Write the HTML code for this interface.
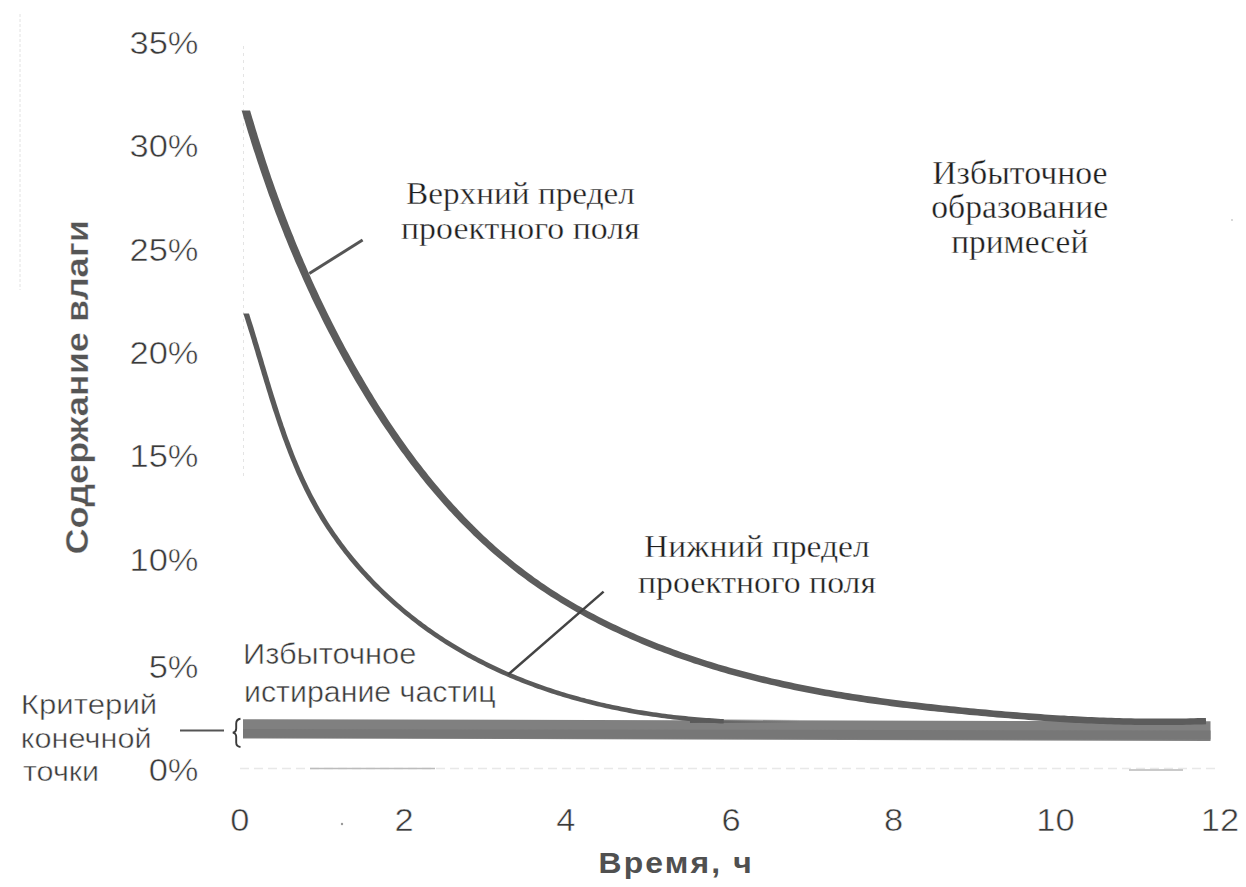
<!DOCTYPE html>
<html><head><meta charset="utf-8"><style>
html,body{margin:0;padding:0;background:#fff;width:1246px;height:887px;overflow:hidden}
svg{display:block}
</style></head><body>
<svg width="1246" height="887" viewBox="0 0 1246 887">
<rect width="1246" height="887" fill="#fff"/>
<line x1="20" y1="14" x2="20" y2="290" stroke="#e2e2e2" stroke-width="1" stroke-dasharray="3 2"/>
<line x1="243.5" y1="46" x2="243.5" y2="480" stroke="#e4e4e4" stroke-width="1" stroke-dasharray="3 4"/>
<line x1="240" y1="768.5" x2="1219" y2="768.5" stroke="#e8e8e8" stroke-width="1.5" stroke-dasharray="9 5"/>
<line x1="310" y1="768.5" x2="435" y2="768.5" stroke="#bcbcbc" stroke-width="1.5"/>
<line x1="1129" y1="770" x2="1183" y2="770" stroke="#b8b8b8" stroke-width="1.5"/>
<circle cx="342" cy="824" r="1.2" fill="#999"/>
<circle cx="1232" cy="220" r="1" fill="#ccc"/>
<path d="M243 719.3 L1210.5 721.3 L1210.5 741 L243 738.4 Z" fill="#808080"/>
<path d="M243 729 L1210.5 730.5 L1210.5 739.5 L243 737.8 Z" fill="#777"/>
<linearGradient id="lg" x1="690" y1="0" x2="800" y2="0" gradientUnits="userSpaceOnUse"><stop offset="0" stop-color="#5a5a5a" stop-opacity="1"/><stop offset="1" stop-color="#5a5a5a" stop-opacity="0"/></linearGradient>
<rect x="690" y="719.5" width="110" height="3.5" fill="url(#lg)"/>
<clipPath id="cu"><rect x="0" y="110.5" width="1246" height="800"/></clipPath>
<path d="M241.1 108.8 L242.3 112.7 L243.4 116.5 L244.5 120.3 L245.6 124.1 L246.8 127.9 L247.9 131.7 L249.1 135.4 L250.3 139.2 L251.4 143.0 L252.6 146.8 L253.8 150.5 L255.1 154.3 L256.3 158.0 L257.5 161.8 L258.8 165.5 L260.0 169.3 L261.3 173.0 L262.6 176.8 L263.9 180.5 L265.2 184.2 L266.5 188.0 L267.8 191.7 L269.1 195.4 L270.5 199.1 L271.9 202.8 L273.2 206.5 L274.6 210.2 L276.0 213.9 L277.4 217.6 L278.8 221.2 L280.3 224.9 L281.7 228.6 L283.2 232.3 L284.6 235.9 L286.1 239.6 L287.6 243.2 L289.1 246.9 L290.6 250.5 L292.1 254.1 L293.7 257.8 L295.2 261.4 L296.8 265.0 L298.4 268.6 L300.0 272.2 L301.6 275.8 L303.2 279.4 L304.8 283.0 L306.4 286.6 L308.1 290.2 L309.8 293.8 L311.4 297.4 L313.1 300.9 L314.8 304.5 L316.5 308.0 L318.3 311.6 L320.0 315.1 L321.8 318.7 L323.5 322.2 L325.3 325.7 L327.1 329.2 L328.9 332.8 L330.8 336.3 L332.6 339.8 L334.4 343.3 L336.3 346.8 L338.2 350.3 L340.1 353.7 L342.0 357.2 L343.9 360.7 L345.8 364.1 L347.8 367.6 L349.7 371.0 L351.7 374.5 L353.7 377.9 L355.7 381.4 L357.7 384.8 L359.8 388.2 L361.8 391.6 L363.9 395.0 L366.0 398.4 L368.0 401.8 L370.2 405.2 L372.3 408.5 L374.4 411.9 L376.6 415.3 L378.7 418.6 L380.9 421.9 L383.1 425.2 L385.3 428.6 L387.6 431.8 L389.8 435.1 L392.1 438.4 L394.4 441.7 L396.7 444.9 L399.0 448.2 L401.3 451.4 L403.7 454.6 L406.0 457.8 L408.4 461.0 L410.8 464.2 L413.2 467.3 L415.6 470.5 L418.1 473.6 L420.5 476.7 L423.0 479.8 L425.5 482.9 L428.0 486.0 L430.6 489.0 L433.1 492.0 L435.7 495.1 L438.3 498.1 L440.9 501.0 L443.5 504.0 L446.2 507.0 L448.8 509.9 L451.5 512.8 L454.2 515.7 L456.9 518.6 L459.6 521.4 L462.4 524.2 L465.2 527.1 L468.0 529.8 L470.8 532.6 L473.6 535.4 L476.4 538.1 L479.3 540.8 L482.2 543.5 L485.1 546.1 L488.0 548.8 L491.0 551.4 L493.9 554.0 L496.9 556.6 L499.9 559.1 L502.9 561.6 L506.0 564.1 L509.0 566.6 L512.1 569.1 L515.2 571.5 L518.3 573.9 L521.5 576.2 L524.7 578.6 L527.8 580.9 L531.0 583.2 L534.3 585.5 L537.5 587.7 L540.8 589.9 L544.0 592.1 L547.3 594.3 L550.6 596.4 L554.0 598.5 L557.3 600.6 L560.7 602.7 L564.1 604.7 L567.5 606.8 L570.9 608.8 L574.3 610.7 L577.7 612.7 L581.2 614.6 L584.6 616.5 L588.1 618.4 L591.6 620.3 L595.1 622.1 L598.7 623.9 L602.2 625.7 L605.7 627.5 L609.3 629.2 L612.9 630.9 L616.5 632.6 L620.1 634.3 L623.7 635.9 L627.3 637.6 L630.9 639.2 L634.6 640.8 L638.2 642.3 L641.9 643.9 L645.6 645.4 L649.3 646.9 L653.0 648.4 L656.7 649.9 L660.4 651.3 L664.1 652.7 L667.8 654.1 L671.6 655.5 L675.3 656.9 L679.1 658.2 L682.8 659.5 L686.6 660.8 L690.3 662.1 L694.1 663.4 L697.9 664.6 L701.7 665.8 L705.5 667.0 L709.3 668.2 L713.1 669.4 L716.9 670.5 L720.7 671.7 L724.5 672.8 L728.3 673.9 L732.2 674.9 L736.0 676.0 L739.8 677.0 L743.6 678.1 L747.5 679.1 L751.3 680.1 L755.2 681.0 L759.0 682.0 L762.8 682.9 L766.7 683.8 L770.5 684.8 L774.4 685.6 L778.3 686.5 L782.1 687.4 L786.0 688.2 L789.8 689.1 L793.7 689.9 L797.6 690.7 L801.5 691.5 L805.3 692.2 L809.2 693.0 L813.1 693.7 L817.0 694.5 L820.9 695.2 L824.7 695.9 L828.6 696.6 L832.5 697.3 L836.4 698.0 L840.3 698.6 L844.2 699.3 L848.1 699.9 L852.0 700.5 L855.9 701.1 L859.8 701.7 L863.7 702.3 L867.6 702.9 L871.5 703.5 L875.4 704.0 L879.3 704.6 L883.2 705.1 L887.1 705.6 L891.1 706.2 L895.0 706.7 L898.9 707.2 L902.8 707.7 L906.7 708.1 L910.6 708.6 L914.6 709.1 L918.5 709.5 L922.4 710.0 L926.3 710.4 L930.3 710.9 L934.2 711.3 L938.1 711.7 L942.0 712.1 L946.0 712.5 L949.9 712.9 L953.8 713.3 L957.7 713.7 L961.7 714.1 L965.6 714.5 L969.5 714.9 L973.4 715.2 L977.4 715.6 L981.3 716.0 L985.2 716.3 L989.2 716.7 L993.1 717.0 L997.0 717.4 L1001.0 717.7 L1004.9 718.0 L1008.8 718.3 L1012.7 718.7 L1016.7 719.0 L1020.6 719.3 L1024.5 719.6 L1028.5 719.9 L1032.4 720.2 L1036.4 720.4 L1040.3 720.7 L1044.2 721.0 L1048.2 721.2 L1052.1 721.5 L1056.0 721.7 L1060.0 722.0 L1063.9 722.2 L1067.9 722.4 L1071.8 722.7 L1075.7 722.9 L1079.7 723.1 L1083.6 723.3 L1087.6 723.4 L1091.5 723.6 L1095.4 723.8 L1099.4 723.9 L1103.3 724.1 L1107.3 724.2 L1111.2 724.3 L1115.2 724.5 L1119.1 724.6 L1123.1 724.7 L1127.0 724.8 L1131.0 724.8 L1134.9 724.9 L1138.9 725.0 L1142.8 725.0 L1146.8 725.1 L1150.7 725.1 L1154.7 725.1 L1158.6 725.1 L1162.6 725.1 L1166.5 725.1 L1170.5 725.1 L1174.4 725.0 L1178.4 725.0 L1182.3 724.9 L1186.3 724.8 L1190.2 724.7 L1194.2 724.6 L1198.2 724.5 L1202.1 724.4 L1206.1 724.3 L1205.9 717.9 L1201.9 718.0 L1198.0 718.1 L1194.0 718.2 L1190.1 718.3 L1186.2 718.4 L1182.2 718.5 L1178.3 718.5 L1174.4 718.6 L1170.4 718.6 L1166.5 718.6 L1162.5 718.6 L1158.6 718.6 L1154.7 718.6 L1150.7 718.6 L1146.8 718.6 L1142.9 718.5 L1138.9 718.5 L1135.0 718.4 L1131.1 718.3 L1127.1 718.3 L1123.2 718.2 L1119.3 718.1 L1115.4 717.9 L1111.4 717.8 L1107.5 717.7 L1103.6 717.5 L1099.6 717.4 L1095.7 717.2 L1091.8 717.1 L1087.9 716.9 L1083.9 716.7 L1080.0 716.5 L1076.1 716.3 L1072.1 716.1 L1068.2 715.9 L1064.3 715.6 L1060.4 715.4 L1056.4 715.2 L1052.5 714.9 L1048.6 714.7 L1044.7 714.4 L1040.7 714.1 L1036.8 713.8 L1032.9 713.6 L1029.0 713.3 L1025.1 713.0 L1021.1 712.7 L1017.2 712.3 L1013.3 712.0 L1009.4 711.7 L1005.4 711.4 L1001.5 711.0 L997.6 710.7 L993.7 710.4 L989.8 710.0 L985.8 709.6 L981.9 709.3 L978.0 708.9 L974.1 708.6 L970.2 708.2 L966.2 707.8 L962.3 707.4 L958.4 707.0 L954.5 706.6 L950.6 706.2 L946.7 705.8 L942.7 705.4 L938.8 705.0 L934.9 704.6 L931.0 704.1 L927.1 703.7 L923.2 703.3 L919.3 702.8 L915.4 702.3 L911.5 701.9 L907.5 701.4 L903.6 700.9 L899.7 700.4 L895.8 699.9 L891.9 699.4 L888.0 698.9 L884.1 698.4 L880.3 697.9 L876.4 697.3 L872.5 696.8 L868.6 696.2 L864.7 695.7 L860.8 695.1 L856.9 694.5 L853.0 693.9 L849.2 693.3 L845.3 692.7 L841.4 692.0 L837.5 691.4 L833.6 690.7 L829.8 690.0 L825.9 689.4 L822.0 688.7 L818.2 688.0 L814.3 687.2 L810.5 686.5 L806.6 685.8 L802.8 685.0 L798.9 684.2 L795.1 683.4 L791.2 682.6 L787.4 681.8 L783.5 681.0 L779.7 680.1 L775.9 679.3 L772.0 678.4 L768.2 677.5 L764.4 676.6 L760.6 675.7 L756.7 674.7 L752.9 673.8 L749.1 672.8 L745.3 671.8 L741.5 670.8 L737.7 669.8 L733.9 668.7 L730.1 667.7 L726.3 666.6 L722.5 665.5 L718.7 664.4 L715.0 663.2 L711.2 662.1 L707.4 660.9 L703.6 659.7 L699.9 658.5 L696.1 657.3 L692.4 656.0 L688.7 654.8 L684.9 653.5 L681.2 652.2 L677.5 650.8 L673.8 649.5 L670.1 648.1 L666.4 646.7 L662.7 645.3 L659.0 643.9 L655.3 642.4 L651.7 641.0 L648.0 639.5 L644.4 638.0 L640.7 636.5 L637.1 634.9 L633.5 633.3 L629.9 631.7 L626.3 630.1 L622.8 628.5 L619.2 626.8 L615.6 625.1 L612.1 623.4 L608.6 621.7 L605.1 620.0 L601.6 618.2 L598.1 616.4 L594.6 614.6 L591.1 612.8 L587.7 610.9 L584.3 609.0 L580.9 607.1 L577.5 605.2 L574.1 603.2 L570.7 601.3 L567.4 599.3 L564.0 597.2 L560.7 595.2 L557.4 593.1 L554.1 591.0 L550.9 588.9 L547.6 586.7 L544.4 584.6 L541.2 582.4 L538.0 580.1 L534.8 577.9 L531.7 575.6 L528.5 573.3 L525.4 571.0 L522.3 568.6 L519.3 566.3 L516.2 563.9 L513.2 561.4 L510.2 559.0 L507.2 556.5 L504.2 554.0 L501.2 551.5 L498.3 549.0 L495.4 546.4 L492.5 543.8 L489.6 541.2 L486.8 538.5 L483.9 535.9 L481.1 533.2 L478.3 530.5 L475.5 527.8 L472.8 525.0 L470.0 522.3 L467.3 519.5 L464.6 516.7 L461.9 513.8 L459.2 511.0 L456.6 508.1 L453.9 505.2 L451.3 502.3 L448.7 499.4 L446.1 496.5 L443.5 493.5 L441.0 490.5 L438.5 487.6 L435.9 484.5 L433.4 481.5 L431.0 478.5 L428.5 475.4 L426.1 472.3 L423.6 469.3 L421.2 466.1 L418.8 463.0 L416.4 459.9 L414.1 456.7 L411.7 453.6 L409.4 450.4 L407.1 447.2 L404.8 444.0 L402.5 440.8 L400.2 437.6 L398.0 434.3 L395.7 431.1 L393.5 427.8 L391.3 424.5 L389.1 421.2 L387.0 417.9 L384.8 414.6 L382.7 411.3 L380.5 408.0 L378.4 404.7 L376.3 401.3 L374.2 398.0 L372.2 394.6 L370.1 391.2 L368.1 387.8 L366.1 384.4 L364.1 381.0 L362.1 377.6 L360.1 374.2 L358.1 370.8 L356.2 367.4 L354.2 364.0 L352.3 360.5 L350.4 357.1 L348.5 353.6 L346.6 350.2 L344.7 346.7 L342.9 343.3 L341.0 339.8 L339.2 336.3 L337.4 332.8 L335.6 329.3 L333.8 325.8 L332.0 322.3 L330.3 318.8 L328.5 315.3 L326.8 311.8 L325.1 308.3 L323.4 304.7 L321.7 301.2 L320.0 297.7 L318.3 294.1 L316.7 290.6 L315.0 287.0 L313.4 283.4 L311.8 279.9 L310.2 276.3 L308.6 272.7 L307.0 269.1 L305.5 265.5 L303.9 261.9 L302.4 258.3 L300.8 254.7 L299.3 251.1 L297.8 247.5 L296.3 243.9 L294.8 240.3 L293.4 236.6 L291.9 233.0 L290.5 229.4 L289.0 225.7 L287.6 222.1 L286.2 218.4 L284.8 214.7 L283.4 211.1 L282.0 207.4 L280.7 203.7 L279.3 200.1 L278.0 196.4 L276.7 192.7 L275.3 189.0 L274.0 185.3 L272.7 181.6 L271.4 177.9 L270.2 174.2 L268.9 170.4 L267.7 166.7 L266.4 163.0 L265.2 159.3 L264.0 155.5 L262.8 151.8 L261.6 148.1 L260.4 144.3 L259.2 140.6 L258.0 136.8 L256.9 133.0 L255.7 129.3 L254.6 125.5 L253.5 121.7 L252.3 118.0 L251.2 114.2 L250.1 110.4 L249.0 106.6 Z" fill="#5c5c5c" clip-path="url(#cu)"/>
<clipPath id="cl"><rect x="0" y="313.5" width="1246" height="800"/></clipPath>
<path d="M242.9 312.2 L243.8 315.1 L244.7 317.8 L245.6 320.6 L246.5 323.4 L247.4 326.2 L248.2 328.9 L249.1 331.7 L250.0 334.5 L250.8 337.3 L251.7 340.1 L252.5 342.9 L253.4 345.7 L254.2 348.5 L255.1 351.3 L255.9 354.2 L256.7 357.0 L257.6 359.8 L258.4 362.6 L259.3 365.4 L260.1 368.3 L261.0 371.1 L261.8 373.9 L262.7 376.7 L263.5 379.6 L264.4 382.4 L265.3 385.2 L266.1 388.1 L267.0 390.9 L267.9 393.7 L268.7 396.6 L269.6 399.4 L270.5 402.2 L271.4 405.0 L272.3 407.9 L273.2 410.7 L274.2 413.5 L275.1 416.3 L276.0 419.1 L277.0 421.9 L277.9 424.7 L278.9 427.5 L279.8 430.3 L280.8 433.1 L281.8 435.9 L282.8 438.7 L283.9 441.5 L284.9 444.3 L285.9 447.0 L287.0 449.8 L288.0 452.5 L289.1 455.3 L290.2 458.0 L291.3 460.8 L292.5 463.5 L293.6 466.2 L294.8 469.0 L295.9 471.7 L297.1 474.4 L298.3 477.1 L299.5 479.7 L300.8 482.4 L302.0 485.1 L303.3 487.7 L304.6 490.4 L305.9 493.0 L307.3 495.7 L308.6 498.3 L310.0 500.9 L311.4 503.5 L312.8 506.1 L314.3 508.7 L315.7 511.2 L317.2 513.8 L318.7 516.3 L320.2 518.9 L321.8 521.4 L323.4 523.9 L325.0 526.4 L326.6 528.9 L328.2 531.3 L329.9 533.8 L331.6 536.2 L333.3 538.6 L335.0 541.1 L336.7 543.5 L338.5 545.8 L340.3 548.2 L342.1 550.6 L343.9 552.9 L345.8 555.3 L347.6 557.6 L349.5 559.9 L351.4 562.2 L353.3 564.4 L355.2 566.7 L357.2 568.9 L359.2 571.2 L361.2 573.4 L363.2 575.6 L365.2 577.8 L367.2 579.9 L369.3 582.1 L371.3 584.2 L373.4 586.4 L375.5 588.5 L377.7 590.6 L379.8 592.6 L382.0 594.7 L384.1 596.7 L386.3 598.8 L388.5 600.8 L390.7 602.8 L392.9 604.7 L395.2 606.7 L397.4 608.6 L399.7 610.6 L402.0 612.5 L404.3 614.4 L406.6 616.3 L408.9 618.1 L411.2 620.0 L413.6 621.8 L415.9 623.6 L418.3 625.4 L420.7 627.2 L423.1 628.9 L425.5 630.7 L427.9 632.4 L430.3 634.1 L432.7 635.8 L435.2 637.4 L437.7 639.1 L440.1 640.7 L442.6 642.3 L445.1 643.9 L447.6 645.5 L450.1 647.0 L452.6 648.6 L455.1 650.1 L457.7 651.6 L460.2 653.1 L462.8 654.5 L465.4 656.0 L467.9 657.4 L470.5 658.8 L473.1 660.2 L475.7 661.6 L478.3 662.9 L480.9 664.3 L483.6 665.6 L486.2 666.9 L488.8 668.2 L491.5 669.5 L494.2 670.7 L496.8 672.0 L499.5 673.2 L502.2 674.4 L504.9 675.6 L507.6 676.8 L510.3 677.9 L513.0 679.1 L515.7 680.2 L518.5 681.3 L521.2 682.4 L523.9 683.5 L526.7 684.6 L529.4 685.6 L532.2 686.6 L535.0 687.7 L537.7 688.7 L540.5 689.6 L543.3 690.6 L546.1 691.6 L548.9 692.5 L551.7 693.4 L554.5 694.3 L557.3 695.2 L560.2 696.1 L563.0 697.0 L565.8 697.8 L568.6 698.6 L571.5 699.5 L574.3 700.3 L577.2 701.0 L580.0 701.8 L582.9 702.6 L585.8 703.3 L588.6 704.1 L591.5 704.8 L594.4 705.5 L597.3 706.2 L600.2 706.8 L603.1 707.5 L606.0 708.2 L608.9 708.8 L611.8 709.4 L614.7 710.0 L617.6 710.6 L620.5 711.2 L623.4 711.8 L626.3 712.3 L629.2 712.9 L632.2 713.4 L635.1 713.9 L638.0 714.4 L640.9 714.9 L643.9 715.4 L646.8 715.8 L649.7 716.3 L652.7 716.7 L655.6 717.1 L658.6 717.6 L661.5 718.0 L664.5 718.3 L667.4 718.7 L670.4 719.1 L673.3 719.4 L676.3 719.8 L679.2 720.1 L682.2 720.4 L685.1 720.7 L688.1 721.0 L691.0 721.3 L694.0 721.6 L696.9 721.8 L699.9 722.1 L702.9 722.3 L705.8 722.5 L708.8 722.7 L711.7 722.9 L714.7 723.1 L717.6 723.3 L720.6 723.5 L723.6 723.6 L723.8 719.0 L720.9 718.9 L717.9 718.7 L715.0 718.5 L712.0 718.3 L709.1 718.1 L706.2 717.9 L703.2 717.7 L700.3 717.5 L697.3 717.2 L694.4 717.0 L691.5 716.7 L688.5 716.4 L685.6 716.1 L682.6 715.8 L679.7 715.5 L676.8 715.2 L673.8 714.9 L670.9 714.5 L668.0 714.2 L665.0 713.8 L662.1 713.4 L659.2 713.0 L656.3 712.6 L653.3 712.2 L650.4 711.7 L647.5 711.3 L644.6 710.8 L641.7 710.3 L638.8 709.9 L635.9 709.4 L633.0 708.9 L630.1 708.3 L627.2 707.8 L624.3 707.2 L621.4 706.7 L618.5 706.1 L615.6 705.5 L612.7 704.9 L609.8 704.3 L606.9 703.7 L604.1 703.0 L601.2 702.4 L598.3 701.7 L595.5 701.0 L592.6 700.3 L589.8 699.6 L586.9 698.9 L584.1 698.1 L581.2 697.4 L578.4 696.6 L575.6 695.8 L572.8 695.0 L569.9 694.2 L567.1 693.4 L564.3 692.5 L561.5 691.7 L558.7 690.8 L555.9 689.9 L553.1 689.0 L550.4 688.1 L547.6 687.2 L544.8 686.2 L542.1 685.3 L539.3 684.3 L536.5 683.3 L533.8 682.3 L531.1 681.3 L528.3 680.2 L525.6 679.2 L522.9 678.1 L520.2 677.0 L517.5 675.9 L514.8 674.8 L512.1 673.7 L509.4 672.5 L506.7 671.4 L504.1 670.2 L501.4 669.0 L498.8 667.8 L496.1 666.5 L493.5 665.3 L490.9 664.0 L488.3 662.7 L485.7 661.4 L483.1 660.1 L480.5 658.8 L477.9 657.5 L475.3 656.1 L472.7 654.7 L470.2 653.3 L467.6 651.9 L465.1 650.5 L462.6 649.0 L460.0 647.5 L457.5 646.1 L455.0 644.6 L452.5 643.0 L450.1 641.5 L447.6 639.9 L445.1 638.4 L442.7 636.8 L440.2 635.2 L437.8 633.5 L435.4 631.9 L433.0 630.2 L430.6 628.6 L428.2 626.9 L425.8 625.1 L423.5 623.4 L421.1 621.6 L418.8 619.9 L416.4 618.1 L414.1 616.3 L411.8 614.5 L409.5 612.6 L407.2 610.8 L405.0 608.9 L402.7 607.0 L400.5 605.1 L398.3 603.2 L396.1 601.2 L393.9 599.2 L391.7 597.3 L389.5 595.3 L387.4 593.3 L385.2 591.2 L383.1 589.2 L381.0 587.2 L378.9 585.1 L376.8 583.0 L374.8 580.9 L372.7 578.8 L370.7 576.6 L368.7 574.5 L366.7 572.3 L364.7 570.2 L362.8 568.0 L360.8 565.8 L358.9 563.5 L357.0 561.3 L355.1 559.1 L353.2 556.8 L351.4 554.5 L349.6 552.2 L347.7 549.9 L345.9 547.6 L344.2 545.3 L342.4 542.9 L340.7 540.6 L339.0 538.2 L337.3 535.8 L335.6 533.4 L333.9 531.0 L332.3 528.6 L330.7 526.2 L329.1 523.7 L327.5 521.2 L326.0 518.8 L324.5 516.3 L323.0 513.8 L321.5 511.3 L320.0 508.8 L318.6 506.2 L317.2 503.7 L315.8 501.1 L314.4 498.6 L313.0 496.0 L311.7 493.4 L310.4 490.8 L309.1 488.2 L307.8 485.6 L306.6 483.0 L305.3 480.3 L304.1 477.7 L302.9 475.0 L301.7 472.3 L300.5 469.7 L299.4 467.0 L298.2 464.3 L297.1 461.6 L296.0 458.9 L294.9 456.2 L293.8 453.4 L292.8 450.7 L291.7 448.0 L290.7 445.2 L289.7 442.5 L288.6 439.7 L287.6 437.0 L286.6 434.2 L285.7 431.4 L284.7 428.6 L283.7 425.9 L282.8 423.1 L281.8 420.3 L280.9 417.5 L280.0 414.7 L279.1 411.9 L278.2 409.1 L277.3 406.3 L276.4 403.5 L275.5 400.6 L274.6 397.8 L273.7 395.0 L272.9 392.2 L272.0 389.4 L271.1 386.5 L270.3 383.7 L269.4 380.9 L268.6 378.1 L267.7 375.2 L266.9 372.4 L266.0 369.6 L265.2 366.8 L264.3 363.9 L263.5 361.1 L262.7 358.3 L261.8 355.5 L261.0 352.6 L260.1 349.8 L259.3 347.0 L258.5 344.2 L257.6 341.4 L256.8 338.6 L255.9 335.7 L255.1 332.9 L254.2 330.1 L253.4 327.3 L252.5 324.6 L251.6 321.8 L250.7 319.0 L249.9 316.2 L249.0 313.4 L248.1 310.6 Z" fill="#5a5a5a" clip-path="url(#cl)"/>
<line x1="309.3" y1="273.5" x2="362.6" y2="240" stroke="#555" stroke-width="3"/>
<line x1="508.2" y1="674.6" x2="603.6" y2="591.6" stroke="#444" stroke-width="2.5"/>
<line x1="180" y1="730.5" x2="224" y2="730.5" stroke="#555" stroke-width="2"/>
<path d="M240.5 718.8 C237.5 719.2 236.2 720.8 236.2 723.5 L236.2 728.5 C236.2 731 235 732.2 232.8 732.6 C235 733 236.2 734.3 236.2 736.8 L236.2 742.5 C236.2 745.2 237.5 746.6 240.5 747" fill="none" stroke="#3a3a3a" stroke-width="1.9"/>
<text transform="translate(198.5 54.0) scale(1.130 1)" text-anchor="end" font-family="'Liberation Sans', sans-serif" font-weight="normal" font-size="30.5" fill="#3a3a3a" stroke="#fff" stroke-width="0.50">35%</text>
<text transform="translate(198.5 157.0) scale(1.130 1)" text-anchor="end" font-family="'Liberation Sans', sans-serif" font-weight="normal" font-size="30.5" fill="#3a3a3a" stroke="#fff" stroke-width="0.50">30%</text>
<text transform="translate(198.5 261.0) scale(1.130 1)" text-anchor="end" font-family="'Liberation Sans', sans-serif" font-weight="normal" font-size="30.5" fill="#3a3a3a" stroke="#fff" stroke-width="0.50">25%</text>
<text transform="translate(198.5 364.0) scale(1.130 1)" text-anchor="end" font-family="'Liberation Sans', sans-serif" font-weight="normal" font-size="30.5" fill="#3a3a3a" stroke="#fff" stroke-width="0.50">20%</text>
<text transform="translate(198.5 467.0) scale(1.130 1)" text-anchor="end" font-family="'Liberation Sans', sans-serif" font-weight="normal" font-size="30.5" fill="#3a3a3a" stroke="#fff" stroke-width="0.50">15%</text>
<text transform="translate(198.5 571.0) scale(1.130 1)" text-anchor="end" font-family="'Liberation Sans', sans-serif" font-weight="normal" font-size="30.5" fill="#3a3a3a" stroke="#fff" stroke-width="0.50">10%</text>
<text transform="translate(198.5 677.5) scale(1.130 1)" text-anchor="end" font-family="'Liberation Sans', sans-serif" font-weight="normal" font-size="30.5" fill="#3a3a3a" stroke="#fff" stroke-width="0.50">5%</text>
<text transform="translate(198.5 781.0) scale(1.130 1)" text-anchor="end" font-family="'Liberation Sans', sans-serif" font-weight="normal" font-size="30.5" fill="#3a3a3a" stroke="#fff" stroke-width="0.50">0%</text>
<text transform="translate(239.8 830.5) scale(1.130 1)" text-anchor="middle" font-family="'Liberation Sans', sans-serif" font-weight="normal" font-size="30.5" fill="#3a3a3a" stroke="#fff" stroke-width="0.50">0</text>
<text transform="translate(404.0 830.5) scale(1.130 1)" text-anchor="middle" font-family="'Liberation Sans', sans-serif" font-weight="normal" font-size="30.5" fill="#3a3a3a" stroke="#fff" stroke-width="0.50">2</text>
<text transform="translate(565.8 830.5) scale(1.130 1)" text-anchor="middle" font-family="'Liberation Sans', sans-serif" font-weight="normal" font-size="30.5" fill="#3a3a3a" stroke="#fff" stroke-width="0.50">4</text>
<text transform="translate(731.0 830.5) scale(1.130 1)" text-anchor="middle" font-family="'Liberation Sans', sans-serif" font-weight="normal" font-size="30.5" fill="#3a3a3a" stroke="#fff" stroke-width="0.50">6</text>
<text transform="translate(893.7 830.5) scale(1.130 1)" text-anchor="middle" font-family="'Liberation Sans', sans-serif" font-weight="normal" font-size="30.5" fill="#3a3a3a" stroke="#fff" stroke-width="0.50">8</text>
<text transform="translate(1055.4 830.5) scale(1.130 1)" text-anchor="middle" font-family="'Liberation Sans', sans-serif" font-weight="normal" font-size="30.5" fill="#3a3a3a" stroke="#fff" stroke-width="0.50">10</text>
<text transform="translate(1220.0 830.5) scale(1.130 1)" text-anchor="middle" font-family="'Liberation Sans', sans-serif" font-weight="normal" font-size="30.5" fill="#3a3a3a" stroke="#fff" stroke-width="0.50">12</text>
<text transform="translate(87.5 554.5) rotate(-90) scale(1.165 1)" text-anchor="start" font-family="'Liberation Sans', sans-serif" font-weight="bold" font-size="31.0" fill="#555" stroke="#fff" stroke-width="0.30">Содержание влаги</text>
<text transform="translate(598.5 872.9) scale(1.080 1)" text-anchor="start" font-family="'Liberation Sans', sans-serif" font-weight="bold" font-size="29.5" fill="#505050" letter-spacing="2.00">Время, ч</text>
<text transform="translate(243.0 664.0) scale(1.035 1)" text-anchor="start" font-family="'Liberation Sans', sans-serif" font-weight="normal" font-size="29.8" fill="#3a3a3a" stroke="#fff" stroke-width="0.50">Избыточное</text>
<text transform="translate(244.0 701.8) scale(1.028 1)" text-anchor="start" font-family="'Liberation Sans', sans-serif" font-weight="normal" font-size="29.5" fill="#3a3a3a" stroke="#fff" stroke-width="0.50">истирание частиц</text>
<text transform="translate(20.8 713.5) scale(1.095 1)" text-anchor="start" font-family="'Liberation Sans', sans-serif" font-weight="normal" font-size="28.5" fill="#3a3a3a" stroke="#fff" stroke-width="0.50">Критерий</text>
<text transform="translate(20.8 747.6) scale(1.075 1)" text-anchor="start" font-family="'Liberation Sans', sans-serif" font-weight="normal" font-size="28.5" fill="#3a3a3a" stroke="#fff" stroke-width="0.50">конечной</text>
<text transform="translate(23.0 781.4) scale(1.070 1)" text-anchor="start" font-family="'Liberation Sans', sans-serif" font-weight="normal" font-size="28.5" fill="#3a3a3a" stroke="#fff" stroke-width="0.50">точки</text>
<text transform="translate(406.0 204.4) scale(1.040 1)" text-anchor="start" font-family="'Liberation Serif', serif" font-weight="normal" font-size="32.0" fill="#1e1e1e" stroke="#fff" stroke-width="0.35">Верхний предел</text>
<text transform="translate(401.0 239.3) scale(1.058 1)" text-anchor="start" font-family="'Liberation Serif', serif" font-weight="normal" font-size="32.0" fill="#1e1e1e" stroke="#fff" stroke-width="0.35">проектного поля</text>
<text transform="translate(644.0 557.3) scale(1.050 1)" text-anchor="start" font-family="'Liberation Serif', serif" font-weight="normal" font-size="32.0" fill="#1e1e1e" stroke="#fff" stroke-width="0.35">Нижний предел</text>
<text transform="translate(638.0 592.8) scale(1.055 1)" text-anchor="start" font-family="'Liberation Serif', serif" font-weight="normal" font-size="32.0" fill="#1e1e1e" stroke="#fff" stroke-width="0.35">проектного поля</text>
<text transform="translate(1019.9 184.2) scale(1.012 1)" text-anchor="middle" font-family="'Liberation Serif', serif" font-weight="normal" font-size="33.4" fill="#1e1e1e" stroke="#fff" stroke-width="0.35">Избыточное</text>
<text transform="translate(1019.7 218.4) scale(1.008 1)" text-anchor="middle" font-family="'Liberation Serif', serif" font-weight="normal" font-size="33.4" fill="#1e1e1e" stroke="#fff" stroke-width="0.35">образование</text>
<text transform="translate(1019.7 252.7)" text-anchor="middle" font-family="'Liberation Serif', serif" font-weight="normal" font-size="33.4" fill="#1e1e1e" stroke="#fff" stroke-width="0.35">примесей</text>
</svg>
</body></html>
